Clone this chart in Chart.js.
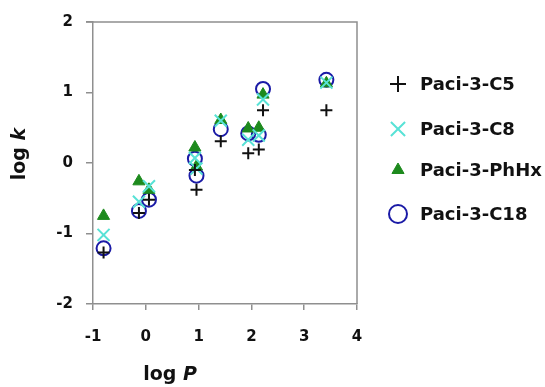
<!DOCTYPE html>
<html>
<head>
<meta charset="utf-8">
<script src="https://cdn.jsdelivr.net/npm/chart.js@4/dist/chart.umd.min.js"></script>
<style>
  html, body { margin: 0; padding: 0; background: #fff; }
  #wrap { width: 545px; height: 387px; }
</style>
</head>
<body>
<div id="wrap"><canvas id="chart1" width="545" height="387"></canvas></div>
<script>
// log P of each compound (shared by all four columns)
const logP = [-0.80, -0.13, 0.06, 0.93, 0.96, 1.42, 1.94, 2.14, 2.22, 3.42];
// log k per column
const kC5   = [-1.27, -0.71, -0.52, -0.10, -0.38, 0.31, 0.14, 0.19, 0.75, 0.75];
const kC8   = [-1.02, -0.55, -0.33, 0.07, -0.08, 0.60, 0.33, 0.39, 0.90, 1.14];
const kPhHx = [-0.75, -0.26, -0.38, 0.22, -0.05, 0.61, 0.49, 0.50, 0.97, 1.13];
const kC18  = [-1.21, -0.68, -0.52, 0.06, -0.18, 0.48, 0.42, 0.40, 1.05, 1.18];
const seriesNames = ['Paci-3-C5', 'Paci-3-C8', 'Paci-3-PhHx', 'Paci-3-C18'];
const xTicks = [-1, 0, 1, 2, 3, 4];
const yTicks = [-2, -1, 0, 1, 2];

const FONT = '"DejaVu Sans", "Liberation Sans", sans-serif';
const axisGray = '#8f8f8f';

function pts(ys) {
    return logP.map((x, i) => ({x: x, y: ys[i]}));
}

// box on top and right, like the original frame
const frame = {
    id: 'frame',
    afterDatasetsDraw(chart) {
        const a = chart.chartArea, ctx = chart.ctx;
        ctx.save();
        ctx.strokeStyle = axisGray;
        ctx.lineWidth = 1.5;
        ctx.beginPath();
        ctx.moveTo(a.left, a.top);
        ctx.lineTo(a.right, a.top);
        ctx.lineTo(a.right, a.bottom);
        ctx.stroke();
        // short tick left of the top
        ctx.beginPath();
        ctx.moveTo(a.left - 7, a.top);
        ctx.lineTo(a.left, a.top);
        ctx.stroke();
        ctx.restore();
    }
};

// axis titles with italic variable letters
function mixedText(ctx, parts, cx, y) {
    let w = 0;
    parts.forEach(p => { ctx.font = p.font; w += ctx.measureText(p.t).width; });
    let x = cx - w / 2;
    parts.forEach(p => {
        ctx.font = p.font;
        ctx.fillText(p.t, x, y);
        x += ctx.measureText(p.t).width;
    });
}
const axisTitles = {
    id: 'axisTitles',
    afterDraw(chart) {
        const ctx = chart.ctx;
        const bold = 'bold 19px ' + FONT, boldIt = 'italic bold 19px ' + FONT;
        ctx.save();
        ctx.fillStyle = '#111';
        ctx.textAlign = 'left';
        ctx.textBaseline = 'alphabetic';
        mixedText(ctx, [{t: 'log ', font: bold}, {t: 'P', font: boldIt}], 170, 380);
        ctx.translate(25, 154);
        ctx.rotate(-Math.PI / 2);
        mixedText(ctx, [{t: 'log ', font: bold}, {t: 'k', font: boldIt}], 0, 0);
        ctx.restore();
    }
};

// legend at right side
const legendRows = [84, 129, 170, 214];
const legendRadius = [8, 10, 7, 9];
const sideLegend = {
    id: 'sideLegend',
    afterDraw(chart) {
        const ctx = chart.ctx;
        chart.data.datasets.forEach((ds, i) => {
            const y = legendRows[i];
            ctx.save();
            ctx.strokeStyle = ds.borderColor;
            ctx.fillStyle = ds.backgroundColor;
            ctx.lineWidth = ds.borderWidth;
            Chart.helpers.drawPoint(ctx, {
                pointStyle: ds.pointStyle,
                radius: legendRadius[i],
                rotation: 0,
                borderWidth: ds.borderWidth
            }, 398, y);
            ctx.restore();
            ctx.save();
            ctx.fillStyle = '#111';
            ctx.font = 'bold 18px ' + FONT;
            ctx.textBaseline = 'middle';
            ctx.textAlign = 'left';
            ctx.fillText(ds.label, 420, y + 1);
            ctx.restore();
        });
    }
};

const ctx1 = document.getElementById('chart1').getContext('2d');
const chart1 = new Chart(ctx1, {
    type: 'scatter',
    data: {
        datasets: [{
            label: seriesNames[0],
            data: pts(kC5),
            pointStyle: 'cross',
            pointRadius: 6,
            borderColor: '#111111',
            backgroundColor: '#111111',
            borderWidth: 2
        }, {
            label: seriesNames[1],
            data: pts(kC8),
            pointStyle: 'crossRot',
            pointRadius: 8.5,
            borderColor: '#58e2d6',
            backgroundColor: '#58e2d6',
            borderWidth: 2
        }, {
            label: seriesNames[2],
            data: pts(kPhHx),
            pointStyle: 'triangle',
            pointRadius: 7,
            borderColor: '#1d8a1d',
            backgroundColor: '#1d8a1d',
            borderWidth: 1
        }, {
            label: seriesNames[3],
            data: pts(kC18),
            pointStyle: 'circle',
            pointRadius: 7,
            borderColor: '#1a1aa6',
            backgroundColor: 'rgba(0,0,0,0)',
            borderWidth: 2
        }]
    },
    options: {
        responsive: false,
        animation: false,
        events: [],
        layout: {
            padding: {left: 0, right: 188, top: 16, bottom: 0}
        },
        plugins: {
            legend: {display: false},
            tooltip: {enabled: false}
        },
        scales: {
            x: {
                type: 'linear',
                min: -1,
                max: 4,
                afterBuildTicks: (scale) => { scale.ticks = xTicks.map(v => ({value: v})); },
                afterFit: (scale) => { scale.height = 83; },
                grid: {drawOnChartArea: false, drawTicks: true, tickLength: 6, color: axisGray, lineWidth: 1.5},
                border: {display: true, color: axisGray, width: 1.5},
                ticks: {
                    color: '#111',
                    padding: 18,
                    font: {family: FONT, size: 15, weight: 'bold'}
                }
            },
            y: {
                type: 'linear',
                min: -2,
                max: 2,
                afterBuildTicks: (scale) => { scale.ticks = yTicks.map(v => ({value: v})); },
                afterFit: (scale) => { scale.width = 93; },
                grid: {drawOnChartArea: false, drawTicks: true, tickLength: 7, color: axisGray, lineWidth: 1.5},
                border: {display: true, color: axisGray, width: 1.5},
                ticks: {
                    color: '#111',
                    padding: 13,
                    font: {family: FONT, size: 15, weight: 'bold'}
                }
            }
        }
    },
    plugins: [frame, axisTitles, sideLegend]
});
</script>
</body>
</html>
